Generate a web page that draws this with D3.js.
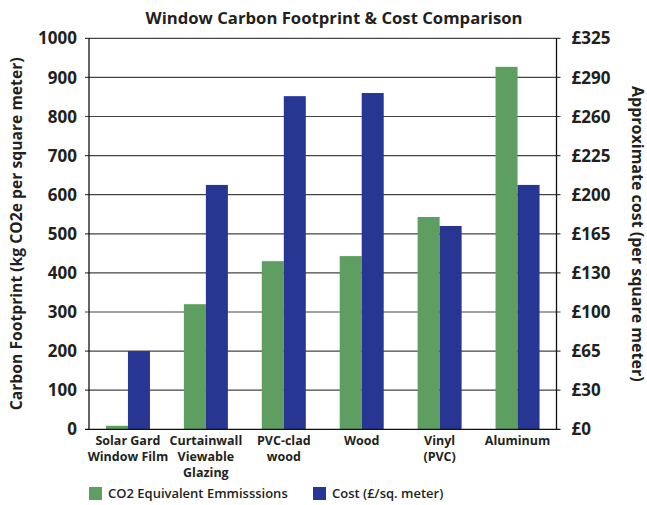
<!DOCTYPE html>
<html><head><meta charset="utf-8">
<script src="https://cdn.jsdelivr.net/npm/d3@7"></script>
<style>body{margin:0;background:#fff}svg{display:block;font-family:"Open Sans",Lato,sans-serif}</style>
</head><body><svg id="c" width="647" height="505"></svg>
<script>
const categories = [["Solar Gard","Window Film"],["Curtainwall","Viewable","Glazing"],["PVC-clad","wood"],["Wood"],["Vinyl","(PVC)"],["Aluminum"]];
const co2Values = [9, 320, 430, 443, 543, 927];
const costValues = [200, 625, 852, 860, 520, 625]; // plotted on the shared 0-1000 scale
const leftTicks = [0,100,200,300,400,500,600,700,800,900,1000];
const rightTickLabels = ["£0","£30","£65","£100","£130","£165","£200","£225","£260","£290","£325"];
const seriesNames = ["CO2 Equivalent Emmisssions","Cost (£/sq. meter)"];
const colors = ["#5f9e61","#273593"];

const svg = d3.select("#c");
const m = {l:89, r:556.5, t:38.3, b:429.3};
const x = d3.scaleBand().domain(d3.range(categories.length)).range([m.l, m.r]);
const y = d3.scaleLinear().domain([0,1000]).range([m.b, m.t]);
const barW = 22;

svg.append("g").selectAll("line").data(leftTicks.slice(1)).join("line")
  .attr("x1", m.l-4).attr("x2", m.r+4).attr("y1", d=>y(d)).attr("y2", d=>y(d))
  .attr("stroke","#444").attr("stroke-width",1.2);

const g = svg.append("g");
g.selectAll(".co2").data(co2Values).join("rect")
  .attr("x",(d,i)=>x(i)+x.bandwidth()/2-barW).attr("width",barW)
  .attr("y",d=>y(d)).attr("height",d=>y(0)-y(d)).attr("fill",colors[0]);
g.selectAll(".cost").data(costValues).join("rect")
  .attr("x",(d,i)=>x(i)+x.bandwidth()/2).attr("width",barW)
  .attr("y",d=>y(d)).attr("height",d=>y(0)-y(d)).attr("fill",colors[1]);

svg.append("line").attr("x1",m.l).attr("x2",m.l).attr("y1",m.t).attr("y2",m.b).attr("stroke","#111").attr("stroke-width",1.3);
svg.append("line").attr("x1",m.r).attr("x2",m.r).attr("y1",m.t).attr("y2",m.b).attr("stroke","#111").attr("stroke-width",1.3);
svg.append("line").attr("x1",m.l-4).attr("x2",m.r+4).attr("y1",m.b).attr("y2",m.b).attr("stroke","#111").attr("stroke-width",1.3);

svg.append("g").selectAll("text").data(leftTicks).join("text")
  .attr("x",77).attr("y",d=>y(d)).attr("dy","0.36em").attr("text-anchor","end")
  .attr("font-size",17).attr("font-weight","bold").attr("fill","#231f20").text(d=>d);
svg.append("g").selectAll("text").data(rightTickLabels).join("text")
  .attr("x",571.5).attr("y",(d,i)=>y(leftTicks[i])).attr("dy","0.36em").attr("text-anchor","start")
  .attr("font-size",17).attr("font-weight","bold").attr("fill","#231f20").text(d=>d);

const xl = svg.append("g").selectAll("text").data(categories).join("text")
  .attr("x",(d,i)=>x(i)+x.bandwidth()/2).attr("y",445).attr("text-anchor","middle")
  .attr("font-size",12.5).attr("font-weight","bold").attr("fill","#231f20");
xl.selectAll("tspan").data(d=>d).join("tspan")
  .attr("x",function(){return this.parentNode.getAttribute("x");})
  .attr("dy",(d,i)=>i?16:0).text(d=>d);

svg.append("text").attr("x",334).attr("y",24).attr("text-anchor","middle")
  .attr("font-size",16.7).attr("font-weight","bold").attr("fill","#231f20")
  .text("Window Carbon Footprint & Cost Comparison");

svg.append("text").attr("transform",`translate(22,${(m.t+m.b)/2}) rotate(-90)`)
  .attr("text-anchor","middle").attr("font-size",15.7).attr("font-weight","bold").attr("fill","#231f20")
  .text("Carbon Footprint (kg CO2e per square meter)");
svg.append("text").attr("transform",`translate(631.5,${(m.t+m.b)/2}) rotate(90)`)
  .attr("text-anchor","middle").attr("font-size",16).attr("font-weight","bold").attr("fill","#231f20")
  .text("Approximate cost (per square meter)");

const legX = [89, 313];
const lg = svg.append("g").selectAll("g").data(seriesNames).join("g")
  .attr("transform",(d,i)=>`translate(${legX[i]},487)`);
lg.append("rect").attr("width",13).attr("height",13).attr("fill",(d,i)=>colors[i]);
lg.append("text").attr("x",19).attr("y",6.5).attr("dy","0.35em")
  .attr("font-size",13).attr("font-weight","600").attr("fill","#231f20").text(d=>d);
</script></body></html>
